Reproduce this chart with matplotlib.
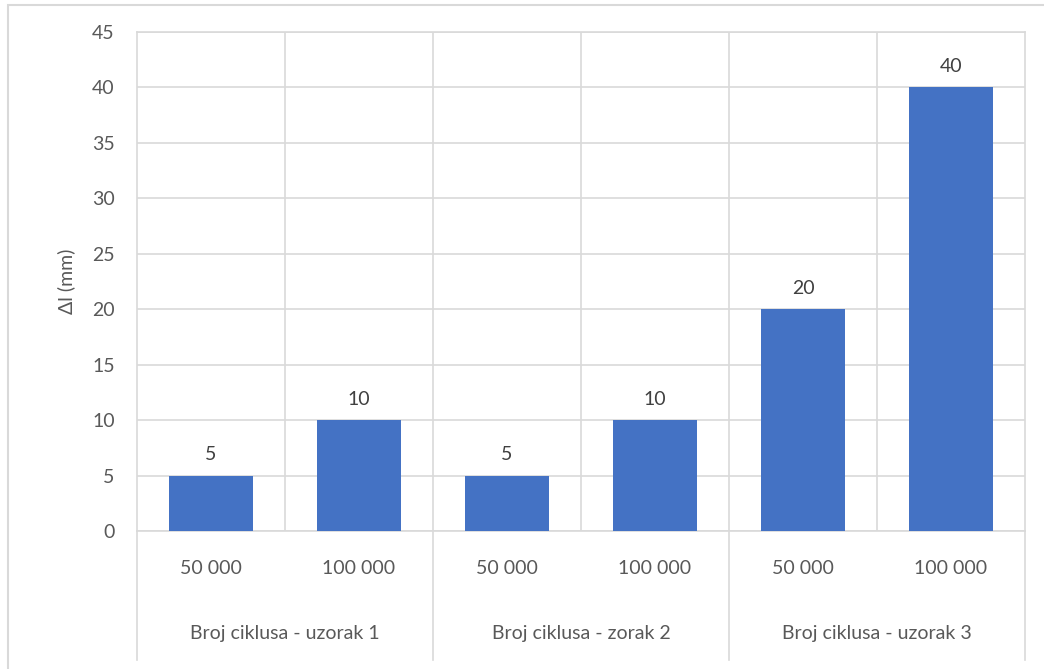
import matplotlib.pyplot as plt
from matplotlib.patches import Rectangle
from matplotlib import transforms

plt.rcParams['font.family'] = ['Lato', 'DejaVu Sans']

# podaci
ciklusi = ['50 000', '100 000', '50 000', '100 000', '50 000', '100 000']
delta_l = [5, 10, 5, 10, 20, 40]
grupe = ['Broj ciklusa - uzorak 1', 'Broj ciklusa - zorak 2', 'Broj ciklusa - uzorak 3']

bar_color = '#4472C4'
grid_color = '#D9D9D9'
text_color = '#595959'

fig = plt.figure(figsize=(10.44, 6.69), dpi=100)
ax = fig.add_axes([137/1044, 1 - 531/669, (1025-137)/1044, (531-32)/669])

# okvir grafikona
fig.patches.append(Rectangle((8/1044, -0.1), 1.2, 1 - 5/669 + 0.1, transform=fig.transFigure,
                             fill=False, edgecolor=grid_color, linewidth=1.5))

x = list(range(len(delta_l)))
bars = ax.bar(x, delta_l, width=0.57, color=bar_color, zorder=3)
for b, v in zip(bars, delta_l):
    ax.annotate(str(v), (b.get_x() + b.get_width()/2, v), xytext=(0, 9),
                textcoords='offset points', ha='center', va='bottom',
                fontsize=14, color='#404040')

ax.set_xlim(-0.5, len(delta_l) - 0.5)
ax.set_ylim(0, 45)
ax.set_yticks(range(0, 46, 5))
ax.yaxis.grid(True, color=grid_color, linewidth=1.2, zorder=0)
for xv in [0.5, 1.5, 2.5, 3.5, 4.5]:
    ax.axvline(xv, color=grid_color, linewidth=1.2, zorder=0)
for s in ax.spines.values():
    s.set_color(grid_color)
    s.set_linewidth(1.2)

ax.set_xticks([])
ax.tick_params(axis='y', length=0, pad=16, labelsize=14, labelcolor=text_color)

# dvorazinska os kategorija
trans = transforms.blended_transform_factory(ax.transData, ax.transAxes)
y_bottom = (531 - 660) / 499
for xv in [-0.5, 1.5, 3.5, 5.5]:
    ax.plot([xv, xv], [0, y_bottom], transform=trans, color=grid_color,
            linewidth=1.2, clip_on=False)
for i, lab in enumerate(ciklusi):
    ax.text(i, (531 - 569) / 499, lab, transform=trans, ha='center', va='center',
            fontsize=14, color=text_color)
for i, g in enumerate(grupe):
    ax.text(2*i + 0.5, (531 - 633) / 499, g, transform=trans, ha='center', va='center',
            fontsize=14, color=text_color)

ax.set_ylabel('Δl (mm)', fontsize=14, color=text_color, labelpad=12)

fig.savefig('out.png', dpi=100)
